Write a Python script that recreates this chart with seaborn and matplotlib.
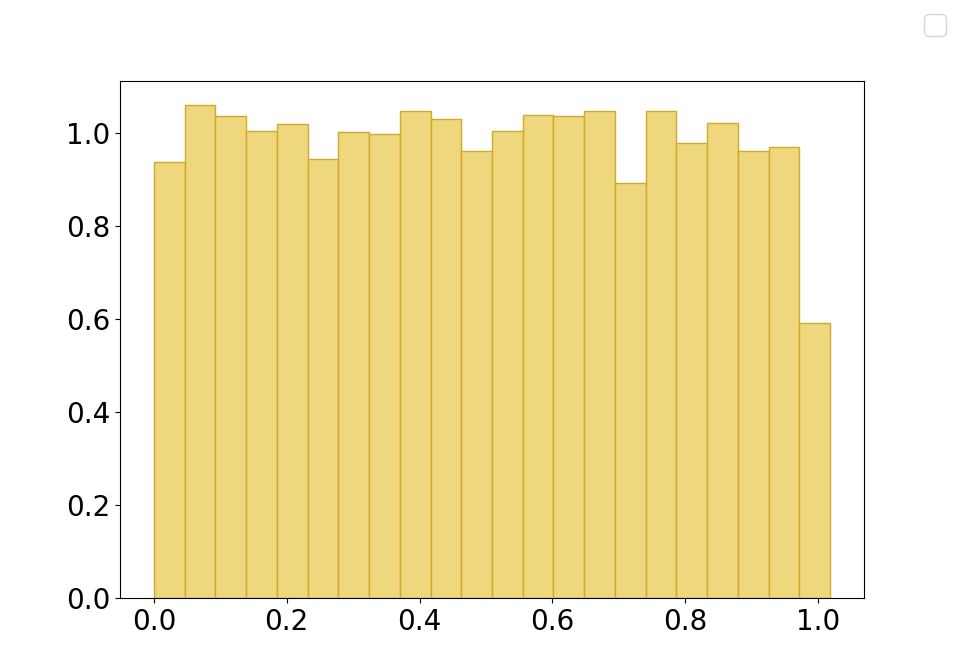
import numpy as np
import pandas as pd
import matplotlib
matplotlib.use("Agg")
import matplotlib.pyplot as plt
import seaborn as sns

# Histogram: 22 equal-width bins from 0 to ~1.018
bin_lo = 0.0
bin_hi = 1.018
n_bins = 22
densities = [0.938, 1.060, 1.037, 1.004, 1.019, 0.944, 1.002, 0.998, 1.047, 1.030, 0.961,
             1.004, 1.039, 1.037, 1.047, 0.892, 1.047, 0.978, 1.021, 0.961, 0.970, 0.591]

edges = np.linspace(bin_lo, bin_hi, n_bins + 1)
df = pd.DataFrame({"x": (edges[:-1] + edges[1:]) / 2, "w": densities})

plt.rcParams["font.size"] = 20

fig, ax = plt.subplots(figsize=(9.6, 6.72), dpi=100)
sns.histplot(data=df, x="x", weights="w", bins=list(edges), ax=ax,
             color="#EED77C", edgecolor="#D4A82A", alpha=1.0, linewidth=1)
ax.set_xlabel("")
ax.set_ylabel("")
ax.set_yticks([0.0, 0.2, 0.4, 0.6, 0.8, 1.0])
ax.set_xticks([0.0, 0.2, 0.4, 0.6, 0.8, 1.0])

fig.legend(loc="upper right")

fig.savefig("out.png", dpi=100)
